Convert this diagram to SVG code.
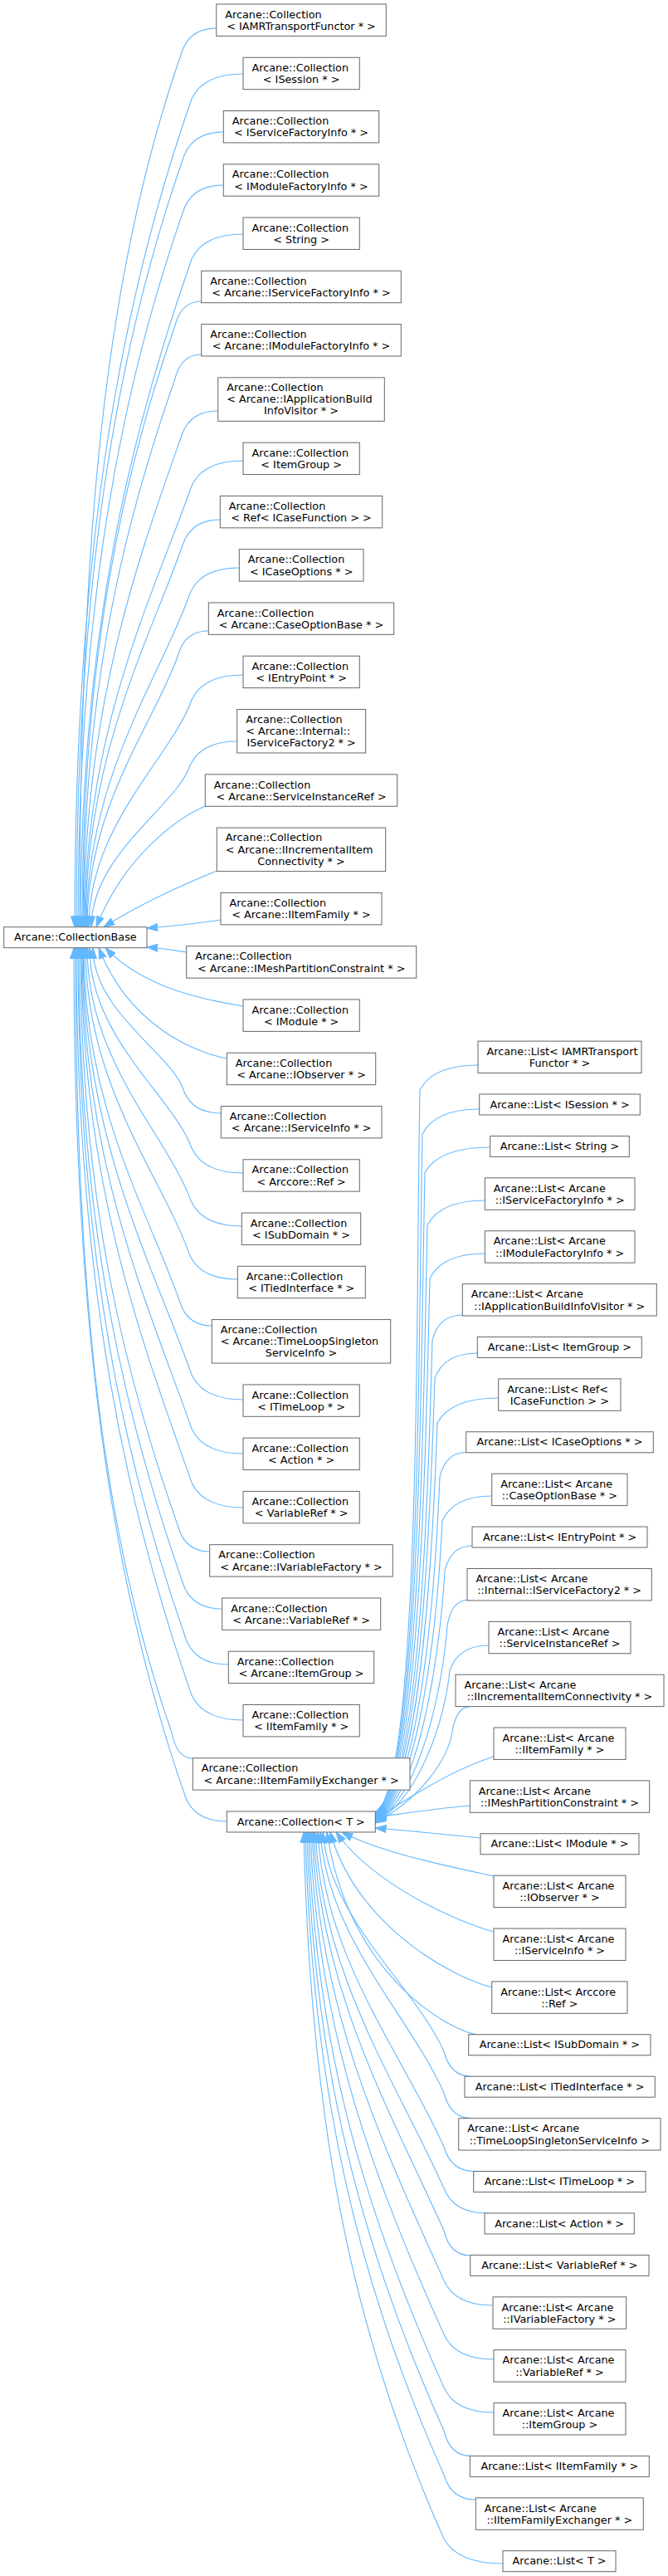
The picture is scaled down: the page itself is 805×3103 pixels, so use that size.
<svg xmlns="http://www.w3.org/2000/svg" width="805" height="3103" viewBox="0 0 805 3103">
<style>
.n rect{fill:#fff;stroke:#666;stroke-width:1}
.n text{font-family:"DejaVu Sans","Liberation Sans",sans-serif;font-size:12.8px;fill:#000}
.l{text-anchor:start}
.c{text-anchor:middle}
#edges path{fill:none;stroke:#63b8ff;stroke-width:1.1;marker-end:url(#arr)}
</style>
<defs>
<marker id="arr" markerUnits="userSpaceOnUse" markerWidth="14" markerHeight="10" viewBox="0 -5 13 10" refX="12.8" refY="0" orient="auto"><path d="M0,-4.5 L12.8,0 L0,4.5 Z" fill="#63b8ff" stroke="#63b8ff" stroke-width="1"/></marker>
</defs>
<rect width="805" height="3103" fill="#fff"/>
<g id="edges">
<path d="M260.7,34 C239.7,34 225,44 218.7,64 C126.6,327.2 96,643 96,1116.7"/>
<path d="M293,89 C262,89 240.3,99 231,119 C143.7,368.4 90,667.7 90,1116.7"/>
<path d="M269.3,159 C245.3,159 228.5,169 221.3,189 C140.1,420.9 92,699.2 92,1116.7"/>
<path d="M269.3,223 C245.3,223 228.5,233 221.3,253 C145.7,468.9 94,728 94,1116.7"/>
<path d="M293,282 C262,282 240.3,292 231,312 C160.6,513.2 97,754.6 97,1116.7"/>
<path d="M242.7,363 C226.7,363 215.5,373 210.7,393 C147.4,573.9 99,791 99,1116.7"/>
<path d="M242.7,427 C226.7,427 215.5,437 210.7,457 C153,621.9 100,819.8 100,1116.7"/>
<path d="M262.7,495 C240.7,495 225.3,505 218.7,525 C166.9,672.9 101,850.4 101,1116.7"/>
<path d="M293,555 C262,555 240.3,565 231,585 C184.5,717.9 102,877.4 102,1116.7"/>
<path d="M265.3,626 C242.8,626 227,636 220.3,656 C180,771.2 103,909.4 103,1116.7"/>
<path d="M288.3,684 C258.8,684 238.2,694 229.3,714 C194.1,814.7 104,935.5 104,1116.7"/>
<path d="M251.3,760 C232.8,760 219.8,770 214.3,790 C185.7,871.7 105,969.7 105,1116.7"/>
<path d="M293,813 C262,813 240.3,823 231,843 C207.1,911.4 107,993.5 107,1116.7"/>
<path d="M285.7,893 C257.2,893 237.2,903 228.7,923 C211.8,971.4 110,1029.5 110,1116.7"/>
<path d="M247.3,971 C215,985 150,1030 116,1116.7"/>
<path d="M261.3,1049 C230,1062 175,1085 125,1116.7"/>
<path d="M266,1108 C240,1112 205,1116 177,1118"/>
<path d="M224.7,1147 C210,1145 195,1142 177,1141"/>
<path d="M293,1212 C250,1205 175,1192 127,1141.7"/>
<path d="M273.3,1275 C235,1268 155,1235 119,1141.7"/>
<path d="M266.3,1341 C243.3,1341 227.2,1331 220.3,1311 C205.5,1268.7 112,1218.1 112,1141.7"/>
<path d="M293,1413 C262,1413 240.3,1403 231,1383 C209.9,1322.7 108,1250.5 108,1141.7"/>
<path d="M291.3,1477 C260.8,1477 239.5,1467 230.3,1447 C203.6,1370.7 105,1279.3 105,1141.7"/>
<path d="M286.3,1541 C257.3,1541 237,1531 228.3,1511 C196,1418.7 103,1308.1 103,1141.7"/>
<path d="M255.3,1597 C235.8,1597 222.2,1587 216.3,1567 C179.1,1460.7 101,1333.3 101,1141.7"/>
<path d="M293,1686 C262,1686 240.3,1676 231,1656 C186,1527.5 100,1373.3 100,1141.7"/>
<path d="M293,1751 C262,1751 240.3,1741 231,1721 C180.3,1576.2 99,1402.6 99,1141.7"/>
<path d="M293,1816 C262,1816 240.3,1806 231,1786 C174.7,1625 98,1431.8 98,1141.7"/>
<path d="M252.7,1869 C233.7,1869 220.4,1859 214.7,1839 C153.7,1664.7 97,1455.7 97,1141.7"/>
<path d="M267.7,1938 C244.2,1938 227.7,1928 220.7,1908 C153.7,1716.5 95,1486.7 95,1141.7"/>
<path d="M275.3,2005 C249.8,2005 232,1995 224.3,1975 C151.4,1766.7 94,1516.9 94,1141.7"/>
<path d="M293,2072 C262,2072 240.3,2062 231,2042 C152.3,1817 92,1547 92,1141.7"/>
<path d="M232.3,2118 C219.8,2118 211,2108 207.3,2088 C124.5,1851.5 91,1567.7 91,1141.7"/>
<path d="M273.3,2194 C248.3,2194 230.8,2184 223.3,2164 C133.9,1908.5 89,1601.1 89,1141.7"/>
<path d="M576,1283 C541,1283 516.5,1293 506,1313 C501,1574 507.3,2153 452.3,2183"/>
<path d="M577.7,1336 C543.4,1336 519.3,1346 509,1366 C504,1611.4 507.3,2154 452.3,2184"/>
<path d="M590.7,1382 C551.4,1382 523.8,1392 512,1412 C507,1643.9 507.3,2155 452.3,2185"/>
<path d="M584.3,1446 C549.7,1446 525.4,1456 515,1476 C510,1689 507.3,2156 452.3,2186"/>
<path d="M584.3,1510 C551.2,1510 528,1520 518,1540 C513,1734.1 507.3,2157 452.3,2187"/>
<path d="M557.3,1584 C539.2,1584 526.4,1594 521,1614 C516,1786.2 507.3,2158 452.3,2188"/>
<path d="M575.3,1630 C549.7,1630 531.7,1640 524,1660 C519,1818.7 507.3,2159 452.3,2189"/>
<path d="M600.7,1684 C563.9,1684 538.1,1694 527,1714 C522,1856.8 507.3,2160 452.3,2190"/>
<path d="M561.7,1749.5 C545.9,1749.5 534.8,1759 530,1779 C525,1902.6 507.3,2161 452.3,2191"/>
<path d="M592.7,1802 C562.9,1802 542,1812 533,1832 C528,1940 507.3,2162 452.3,2192"/>
<path d="M569,1862 C552.5,1862 541,1872 536,1892 C531,1982.3 507.3,2163 452.3,2193"/>
<path d="M563,1927.5 C551,1927.5 542.6,1938 539,1958 C534,2028.8 507.3,2164 452.3,2194"/>
<path d="M589,1982 C565.5,1982 549,1992 542,2012 C537,2066.9 507.3,2165 452.3,2195"/>
<path d="M566.7,2055.6 C555.9,2055.6 548.3,2066 545,2086 C540,2119 507.3,2166 452.3,2196"/>
<path d="M595,2116 C555,2128 500,2160 452.3,2192"/>
<path d="M566.3,2175 C530,2178 490,2184 452.3,2189"/>
<path d="M579,2214 C540,2210 490,2205 452.3,2202"/>
<path d="M595,2260 C540,2248 460,2232 412,2207"/>
<path d="M595,2327 C550,2315 450,2270 405,2207"/>
<path d="M592.7,2394 C545,2382 430,2320 398,2207"/>
<path d="M575,2451 C540,2445 420,2380 394,2207"/>
<path d="M568,2501.2 C551.5,2501.2 540,2491 535,2471 C499.3,2391.7 397,2312.4 389,2207"/>
<path d="M568,2551.65 C551.5,2551.65 540,2541 535,2521 C492.6,2426.7 394,2332.4 386,2207"/>
<path d="M572,2615.5 C553.5,2615.5 540.6,2606 535,2586 C483.8,2472.2 391,2358.4 383,2207"/>
<path d="M586.7,2666 C560.9,2666 542.8,2656 535,2636 C477,2507.2 388,2378.4 380,2207"/>
<path d="M566.7,2717 C550.9,2717 539.8,2707 535,2687 C470.3,2543 386,2398.4 378,2207"/>
<path d="M594,2777 C564.5,2777 543.9,2767 535,2747 C462,2584.9 384,2422.8 376,2207"/>
<path d="M595,2842 C565,2842 544,2832 535,2812 C453.3,2630.4 382,2448.8 374,2207"/>
<path d="M595,2906 C565,2906 544,2896 535,2876 C444.6,2675.2 380,2474.4 372,2207"/>
<path d="M567,2958.4 C551,2958.4 539.8,2948 535,2928 C437.6,2711.6 378,2495.2 370,2207"/>
<path d="M573.3,3011 C554.2,3011 540.7,3001 535,2981 C430.5,2748.7 376,2516.4 368,2207"/>
<path d="M606,3088 C570.5,3088 545.7,3078 535,3058 C420.1,2802.6 374,2547.2 366,2207"/>
</g>
<g id="base" class="n"><rect x="4.7" y="1116.7" width="172.3" height="25"/><text class="c" x="90.85" y="1133.3">Arcane::CollectionBase</text></g>
<g id="n1" class="n"><rect x="260.7" y="5" width="204.6" height="38.4"/><text class="l" x="271.2" y="21.7">Arcane::Collection</text><text class="c" x="363" y="35.9">&lt; IAMRTransportFunctor * &gt;</text></g>
<g id="n2" class="n"><rect x="293" y="69.26" width="140.3" height="38.4"/><text class="l" x="303.5" y="85.96">Arcane::Collection</text><text class="c" x="363.15" y="100.16">&lt; ISession * &gt;</text></g>
<g id="n3" class="n"><rect x="269.3" y="133.52" width="187.4" height="38.4"/><text class="l" x="279.8" y="150.22">Arcane::Collection</text><text class="c" x="363" y="164.42">&lt; IServiceFactoryInfo * &gt;</text></g>
<g id="n4" class="n"><rect x="269.3" y="197.78" width="187.4" height="38.4"/><text class="l" x="279.8" y="214.48">Arcane::Collection</text><text class="c" x="363" y="228.68">&lt; IModuleFactoryInfo * &gt;</text></g>
<g id="n5" class="n"><rect x="293" y="262.04" width="140.3" height="38.4"/><text class="l" x="303.5" y="278.74">Arcane::Collection</text><text class="c" x="363.15" y="292.94">&lt; String &gt;</text></g>
<g id="n6" class="n"><rect x="242.7" y="326.3" width="240.6" height="38.4"/><text class="l" x="253.2" y="343">Arcane::Collection</text><text class="c" x="363" y="357.2">&lt; Arcane::IServiceFactoryInfo * &gt;</text></g>
<g id="n7" class="n"><rect x="242.7" y="390.56" width="240.6" height="38.4"/><text class="l" x="253.2" y="407.26">Arcane::Collection</text><text class="c" x="363" y="421.46">&lt; Arcane::IModuleFactoryInfo * &gt;</text></g>
<g id="n8" class="n"><rect x="262.7" y="454.82" width="200.6" height="52.5"/><text class="l" x="273.2" y="471.02">Arcane::Collection</text><text class="l" x="273.2" y="485.22">&lt; Arcane::IApplicationBuild</text><text class="c" x="363" y="499.42">InfoVisitor * &gt;</text></g>
<g id="n9" class="n"><rect x="293" y="533.18" width="140.3" height="38.4"/><text class="l" x="303.5" y="549.88">Arcane::Collection</text><text class="c" x="363.15" y="564.08">&lt; ItemGroup &gt;</text></g>
<g id="n10" class="n"><rect x="265.3" y="597.44" width="195.4" height="38.4"/><text class="l" x="275.8" y="614.14">Arcane::Collection</text><text class="c" x="363" y="628.34">&lt; Ref&lt; ICaseFunction &gt; &gt;</text></g>
<g id="n11" class="n"><rect x="288.3" y="661.7" width="149.7" height="38.4"/><text class="l" x="298.8" y="678.4">Arcane::Collection</text><text class="c" x="363.15" y="692.6">&lt; ICaseOptions * &gt;</text></g>
<g id="n12" class="n"><rect x="251.3" y="725.96" width="223.4" height="38.4"/><text class="l" x="261.8" y="742.66">Arcane::Collection</text><text class="c" x="363" y="756.86">&lt; Arcane::CaseOptionBase * &gt;</text></g>
<g id="n13" class="n"><rect x="293" y="790.22" width="140.3" height="38.4"/><text class="l" x="303.5" y="806.92">Arcane::Collection</text><text class="c" x="363.15" y="821.12">&lt; IEntryPoint * &gt;</text></g>
<g id="n14" class="n"><rect x="285.7" y="854.48" width="155" height="52.5"/><text class="l" x="296.2" y="870.68">Arcane::Collection</text><text class="l" x="296.2" y="884.88">&lt; Arcane::Internal::</text><text class="c" x="363.2" y="899.08">IServiceFactory2 * &gt;</text></g>
<g id="n15" class="n"><rect x="247.3" y="932.84" width="231.4" height="38.4"/><text class="l" x="257.8" y="949.54">Arcane::Collection</text><text class="c" x="363" y="963.74">&lt; Arcane::ServiceInstanceRef &gt;</text></g>
<g id="n16" class="n"><rect x="261.3" y="997.1" width="203.4" height="52.5"/><text class="l" x="271.8" y="1013.3">Arcane::Collection</text><text class="l" x="271.8" y="1027.5">&lt; Arcane::IIncrementalItem</text><text class="c" x="363" y="1041.7">Connectivity * &gt;</text></g>
<g id="n17" class="n"><rect x="266" y="1075.46" width="194" height="38.4"/><text class="l" x="276.5" y="1092.16">Arcane::Collection</text><text class="c" x="363" y="1106.36">&lt; Arcane::IItemFamily * &gt;</text></g>
<g id="n18" class="n"><rect x="224.7" y="1139.72" width="277" height="38.4"/><text class="l" x="235.2" y="1156.42">Arcane::Collection</text><text class="c" x="363.2" y="1170.62">&lt; Arcane::IMeshPartitionConstraint * &gt;</text></g>
<g id="n19" class="n"><rect x="293" y="1203.98" width="140.3" height="38.4"/><text class="l" x="303.5" y="1220.68">Arcane::Collection</text><text class="c" x="363.15" y="1234.88">&lt; IModule * &gt;</text></g>
<g id="n20" class="n"><rect x="273.3" y="1268.24" width="179.4" height="38.4"/><text class="l" x="283.8" y="1284.94">Arcane::Collection</text><text class="c" x="363" y="1299.14">&lt; Arcane::IObserver * &gt;</text></g>
<g id="n21" class="n"><rect x="266.3" y="1332.5" width="193.7" height="38.4"/><text class="l" x="276.8" y="1349.2">Arcane::Collection</text><text class="c" x="363.15" y="1363.4">&lt; Arcane::IServiceInfo * &gt;</text></g>
<g id="n22" class="n"><rect x="293" y="1396.76" width="140.3" height="38.4"/><text class="l" x="303.5" y="1413.46">Arcane::Collection</text><text class="c" x="363.15" y="1427.66">&lt; Arccore::Ref &gt;</text></g>
<g id="n23" class="n"><rect x="291.3" y="1461.02" width="143.4" height="38.4"/><text class="l" x="301.8" y="1477.72">Arcane::Collection</text><text class="c" x="363" y="1491.92">&lt; ISubDomain * &gt;</text></g>
<g id="n24" class="n"><rect x="286.3" y="1525.28" width="154" height="38.4"/><text class="l" x="296.8" y="1541.98">Arcane::Collection</text><text class="c" x="363.3" y="1556.18">&lt; ITiedInterface * &gt;</text></g>
<g id="n25" class="n"><rect x="255.3" y="1589.54" width="215.4" height="52.5"/><text class="l" x="265.8" y="1605.74">Arcane::Collection</text><text class="l" x="265.8" y="1619.94">&lt; Arcane::TimeLoopSingleton</text><text class="c" x="363" y="1634.14">ServiceInfo &gt;</text></g>
<g id="n26" class="n"><rect x="293" y="1667.9" width="140.3" height="38.4"/><text class="l" x="303.5" y="1684.6">Arcane::Collection</text><text class="c" x="363.15" y="1698.8">&lt; ITimeLoop * &gt;</text></g>
<g id="n27" class="n"><rect x="293" y="1732.16" width="140.3" height="38.4"/><text class="l" x="303.5" y="1748.86">Arcane::Collection</text><text class="c" x="363.15" y="1763.06">&lt; Action * &gt;</text></g>
<g id="n28" class="n"><rect x="293" y="1796.42" width="140.3" height="38.4"/><text class="l" x="303.5" y="1813.12">Arcane::Collection</text><text class="c" x="363.15" y="1827.32">&lt; VariableRef * &gt;</text></g>
<g id="n29" class="n"><rect x="252.7" y="1860.68" width="220.6" height="38.4"/><text class="l" x="263.2" y="1877.38">Arcane::Collection</text><text class="c" x="363" y="1891.58">&lt; Arcane::IVariableFactory * &gt;</text></g>
<g id="n30" class="n"><rect x="267.7" y="1924.94" width="191" height="38.4"/><text class="l" x="278.2" y="1941.64">Arcane::Collection</text><text class="c" x="363.2" y="1955.84">&lt; Arcane::VariableRef * &gt;</text></g>
<g id="n31" class="n"><rect x="275.3" y="1989.2" width="175.4" height="38.4"/><text class="l" x="285.8" y="2005.9">Arcane::Collection</text><text class="c" x="363" y="2020.1">&lt; Arcane::ItemGroup &gt;</text></g>
<g id="n32" class="n"><rect x="293" y="2053.46" width="140.3" height="38.4"/><text class="l" x="303.5" y="2070.16">Arcane::Collection</text><text class="c" x="363.15" y="2084.36">&lt; IItemFamily * &gt;</text></g>
<g id="n33" class="n"><rect x="232.3" y="2117.72" width="261.7" height="38.4"/><text class="l" x="242.8" y="2134.42">Arcane::Collection</text><text class="c" x="363.15" y="2148.62">&lt; Arcane::IItemFamilyExchanger * &gt;</text></g>
<g id="n34" class="n"><rect x="273.3" y="2181.98" width="179" height="25"/><text class="c" x="362.8" y="2198.58">Arcane::Collection&lt; T &gt;</text></g>
<g id="r1" class="n"><rect x="576" y="1254.15" width="197" height="38.4"/><text class="l" x="586.5" y="1270.85">Arcane::List&lt; IAMRTransport</text><text class="c" x="674.5" y="1285.05">Functor * &gt;</text></g>
<g id="r2" class="n"><rect x="577.7" y="1318" width="193.6" height="25"/><text class="c" x="674.5" y="1334.6">Arcane::List&lt; ISession * &gt;</text></g>
<g id="r3" class="n"><rect x="590.7" y="1368.45" width="167.6" height="25"/><text class="c" x="674.5" y="1385.05">Arcane::List&lt; String &gt;</text></g>
<g id="r4" class="n"><rect x="584.3" y="1418.9" width="180.7" height="38.4"/><text class="l" x="594.8" y="1435.6">Arcane::List&lt; Arcane</text><text class="c" x="674.65" y="1449.8">::IServiceFactoryInfo * &gt;</text></g>
<g id="r5" class="n"><rect x="584.3" y="1482.75" width="180.7" height="38.4"/><text class="l" x="594.8" y="1499.45">Arcane::List&lt; Arcane</text><text class="c" x="674.65" y="1513.65">::IModuleFactoryInfo * &gt;</text></g>
<g id="r6" class="n"><rect x="557.3" y="1546.6" width="234" height="38.4"/><text class="l" x="567.8" y="1563.3">Arcane::List&lt; Arcane</text><text class="c" x="674.3" y="1577.5">::IApplicationBuildInfoVisitor * &gt;</text></g>
<g id="r7" class="n"><rect x="575.3" y="1610.45" width="198" height="25"/><text class="c" x="674.3" y="1627.05">Arcane::List&lt; ItemGroup &gt;</text></g>
<g id="r8" class="n"><rect x="600.7" y="1660.9" width="147.3" height="38.4"/><text class="l" x="611.2" y="1677.6">Arcane::List&lt; Ref&lt;</text><text class="c" x="674.35" y="1691.8">ICaseFunction &gt; &gt;</text></g>
<g id="r9" class="n"><rect x="561.7" y="1724.75" width="225.6" height="25"/><text class="c" x="674.5" y="1741.35">Arcane::List&lt; ICaseOptions * &gt;</text></g>
<g id="r10" class="n"><rect x="592.7" y="1775.2" width="163.3" height="38.4"/><text class="l" x="603.2" y="1791.9">Arcane::List&lt; Arcane</text><text class="c" x="674.35" y="1806.1">::CaseOptionBase * &gt;</text></g>
<g id="r11" class="n"><rect x="569" y="1839.05" width="211" height="25"/><text class="c" x="674.5" y="1855.65">Arcane::List&lt; IEntryPoint * &gt;</text></g>
<g id="r12" class="n"><rect x="563" y="1889.5" width="222.3" height="38.4"/><text class="l" x="573.5" y="1906.2">Arcane::List&lt; Arcane</text><text class="c" x="674.15" y="1920.4">::Internal::IServiceFactory2 * &gt;</text></g>
<g id="r13" class="n"><rect x="589" y="1953.35" width="171" height="38.4"/><text class="l" x="599.5" y="1970.05">Arcane::List&lt; Arcane</text><text class="c" x="674.5" y="1984.25">::ServiceInstanceRef &gt;</text></g>
<g id="r14" class="n"><rect x="549" y="2017.2" width="251" height="38.4"/><text class="l" x="559.5" y="2033.9">Arcane::List&lt; Arcane</text><text class="c" x="674.5" y="2048.1">::IIncrementalItemConnectivity * &gt;</text></g>
<g id="r15" class="n"><rect x="595" y="2081.05" width="159" height="38.4"/><text class="l" x="605.5" y="2097.75">Arcane::List&lt; Arcane</text><text class="c" x="674.5" y="2111.95">::IItemFamily * &gt;</text></g>
<g id="r16" class="n"><rect x="566.3" y="2144.9" width="216.4" height="38.4"/><text class="l" x="576.8" y="2161.6">Arcane::List&lt; Arcane</text><text class="c" x="674.5" y="2175.8">::IMeshPartitionConstraint * &gt;</text></g>
<g id="r17" class="n"><rect x="579" y="2208.75" width="191" height="25"/><text class="c" x="674.5" y="2225.35">Arcane::List&lt; IModule * &gt;</text></g>
<g id="r18" class="n"><rect x="595" y="2259.2" width="159" height="38.4"/><text class="l" x="605.5" y="2275.9">Arcane::List&lt; Arcane</text><text class="c" x="674.5" y="2290.1">::IObserver * &gt;</text></g>
<g id="r19" class="n"><rect x="595" y="2323.05" width="159" height="38.4"/><text class="l" x="605.5" y="2339.75">Arcane::List&lt; Arcane</text><text class="c" x="674.5" y="2353.95">::IServiceInfo * &gt;</text></g>
<g id="r20" class="n"><rect x="592.7" y="2386.9" width="163.3" height="38.4"/><text class="l" x="603.2" y="2403.6">Arcane::List&lt; Arccore</text><text class="c" x="674.35" y="2417.8">::Ref &gt;</text></g>
<g id="r21" class="n"><rect x="564.7" y="2450.75" width="219.3" height="25"/><text class="c" x="674.35" y="2467.35">Arcane::List&lt; ISubDomain * &gt;</text></g>
<g id="r22" class="n"><rect x="560" y="2501.2" width="229.3" height="25"/><text class="c" x="674.65" y="2517.8">Arcane::List&lt; ITiedInterface * &gt;</text></g>
<g id="r23" class="n"><rect x="552.7" y="2551.65" width="243.3" height="38.4"/><text class="l" x="563.2" y="2568.35">Arcane::List&lt; Arcane</text><text class="c" x="674.35" y="2582.55">::TimeLoopSingletonServiceInfo &gt;</text></g>
<g id="r24" class="n"><rect x="570.7" y="2615.5" width="207.3" height="25"/><text class="c" x="674.35" y="2632.1">Arcane::List&lt; ITimeLoop * &gt;</text></g>
<g id="r25" class="n"><rect x="584" y="2665.95" width="180.3" height="25"/><text class="c" x="674.15" y="2682.55">Arcane::List&lt; Action * &gt;</text></g>
<g id="r26" class="n"><rect x="566.7" y="2716.4" width="215.3" height="25"/><text class="c" x="674.35" y="2733">Arcane::List&lt; VariableRef * &gt;</text></g>
<g id="r27" class="n"><rect x="594" y="2766.85" width="160.7" height="38.4"/><text class="l" x="604.5" y="2783.55">Arcane::List&lt; Arcane</text><text class="c" x="674.35" y="2797.75">::IVariableFactory * &gt;</text></g>
<g id="r28" class="n"><rect x="595" y="2830.7" width="159" height="38.4"/><text class="l" x="605.5" y="2847.4">Arcane::List&lt; Arcane</text><text class="c" x="674.5" y="2861.6">::VariableRef * &gt;</text></g>
<g id="r29" class="n"><rect x="595" y="2894.55" width="159" height="38.4"/><text class="l" x="605.5" y="2911.25">Arcane::List&lt; Arcane</text><text class="c" x="674.5" y="2925.45">::ItemGroup &gt;</text></g>
<g id="r30" class="n"><rect x="566.3" y="2958.4" width="216" height="25"/><text class="c" x="674.3" y="2975">Arcane::List&lt; IItemFamily * &gt;</text></g>
<g id="r31" class="n"><rect x="573.3" y="3008.85" width="202" height="38.4"/><text class="l" x="583.8" y="3025.55">Arcane::List&lt; Arcane</text><text class="c" x="674.3" y="3039.75">::IItemFamilyExchanger * &gt;</text></g>
<g id="r32" class="n"><rect x="606" y="3072.7" width="136" height="25"/><text class="c" x="674" y="3089.3">Arcane::List&lt; T &gt;</text></g>
</svg>
